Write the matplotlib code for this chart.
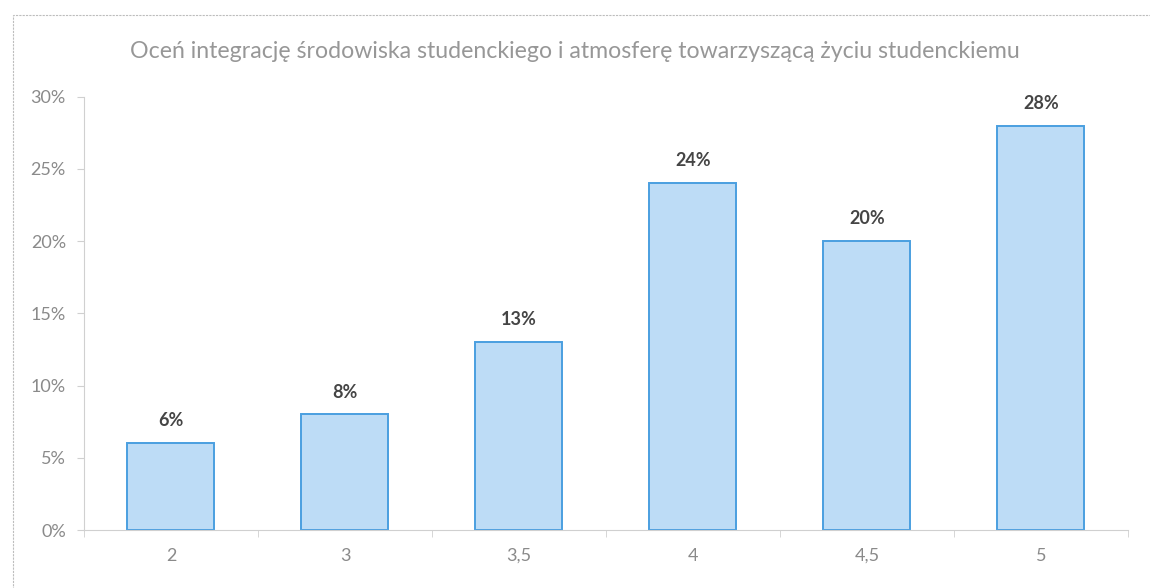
import matplotlib
matplotlib.use("Agg")
import matplotlib.pyplot as plt
from matplotlib.ticker import FuncFormatter, FixedLocator
from matplotlib.patches import Rectangle

categories = ["2", "3", "3,5", "4", "4,5", "5"]
values = [6, 8, 13, 24, 20, 28]
yticks = [0, 5, 10, 15, 20, 25, 30]
title = "Oceń integrację środowiska studenckiego i atmosferę towarzyszącą życiu studenckiemu"

plt.rcParams['font.family'] = ['Lato', 'DejaVu Sans']

fig = plt.figure(figsize=(11.5, 5.88), dpi=100)
ax = fig.add_axes([0.073, 0.0986, 0.9078, 0.737])

x = list(range(len(categories)))
ax.bar(x, values, width=0.5, color="#bddcf6", edgecolor="#4a9fe0", linewidth=1.4, zorder=2)

for xi, v in zip(x, values):
    ax.annotate(f"{v}%", (xi, v), xytext=(0, 10), textcoords="offset points",
                ha="center", va="bottom", fontsize=13, fontweight="bold", color="#454545")

ax.set_xlim(-0.5, len(categories) - 0.5)
ax.set_ylim(0, 30)
ax.set_yticks(yticks)
ax.yaxis.set_major_formatter(FuncFormatter(lambda v, p: f"{int(v)}%"))
ax.set_xticks(x)
ax.set_xticklabels(categories)
ax.xaxis.set_minor_locator(FixedLocator([i + 0.5 for i in range(-1, len(categories))]))

ax.tick_params(axis="x", which="major", length=0, pad=13, labelsize=13, labelcolor="#8a8a8a")
ax.tick_params(axis="x", which="minor", length=5, color="#d0d0d0", direction="out")
ax.tick_params(axis="y", length=5, color="#d0d0d0", pad=8, labelsize=13, labelcolor="#8a8a8a")

for s in ["top", "right"]:
    ax.spines[s].set_visible(False)
ax.spines["left"].set_color("#d0d0d0")
ax.spines["bottom"].set_color("#d0d0d0")

fig.text(0.5, 0.913, title, ha="center", va="center", fontsize=16.7, color="#979797")

fig.patches.append(Rectangle((0.011, -0.05), 1.2, 1.024, transform=fig.transFigure,
                             fill=False, edgecolor="#bdbdbd", linewidth=0.8, linestyle=(0, (2, 1))))

fig.savefig("out.png", dpi=100, facecolor="white")
